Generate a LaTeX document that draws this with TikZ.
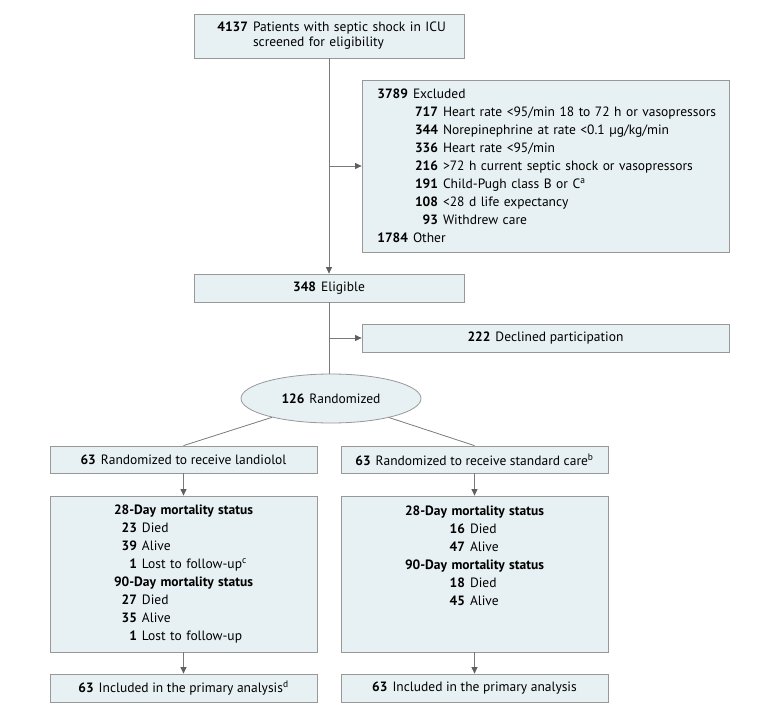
\documentclass[tikz,border=0pt]{standalone}
\usepackage{fontspec}
\setmainfont{PT Sans}
\usetikzlibrary{shapes.geometric,arrows.meta}
\definecolor{boxfill}{HTML}{E7F0F2}
\definecolor{boxdraw}{HTML}{989898}
\definecolor{linec}{HTML}{7A7A7A}
\definecolor{tipc}{HTML}{606060}
\newcommand\nb[2]{\textbf{#1}\hspace{5pt}#2}
\newcommand\rn[3]{\makebox[#1][r]{\textbf{#2}}\hspace{5pt}#3}
\begin{document}
\begin{tikzpicture}[x=1pt,y=-1pt,
  box/.style={draw=boxdraw, fill=boxfill, line width=0.8pt, inner sep=0pt,
    font=\fontsize{13.5}{18}\selectfont},
  conn/.style={draw=linec, line width=0.8pt},
  arr/.style={conn, -{Triangle[width=6pt,length=6.5pt,color=tipc]}}]
\useasboundingbox (0,0) rectangle (780,715);
\node[box, minimum width=270pt, minimum height=44pt, text width=262pt, align=left,
  font=\fontsize{13.5}{15}\selectfont] (top) at (329,36)
  {\noindent\hspace*{19pt}\rn{31pt}{4137}{Patients with septic shock in ICU}\\
   \hspace*{55pt}screened for eligibility};
\node[box, minimum width=367pt, minimum height=172pt, text width=359pt, align=left] (excl) at (545.5,166)
  {\noindent\hspace*{12pt}\rn{30pt}{3789}{Excluded}\\
   \hspace*{42pt}\rn{30pt}{717}{Heart rate <95/min 18 to 72 h or vasopressors}\\
   \hspace*{42pt}\rn{30pt}{344}{Norepinephrine at rate <0.1 µg/kg/min}\\
   \hspace*{42pt}\rn{30pt}{336}{Heart rate <95/min}\\
   \hspace*{42pt}\rn{30pt}{216}{>72 h current septic shock or vasopressors}\\
   \hspace*{42pt}\rn{30pt}{191}{Child-Pugh class B or C\textsuperscript{a}}\\
   \hspace*{42pt}\rn{30pt}{108}{<28 d life expectancy}\\
   \hspace*{42pt}\rn{30pt}{93}{Withdrew care}\\
   \hspace*{12pt}\rn{30pt}{1784}{Other}};
\node[box, minimum width=270pt, minimum height=28pt] (elig) at (329,288) {\nb{348}{Eligible}};
\node[box, minimum width=367pt, minimum height=28pt] (decl) at (545.5,338) {\nb{222}{Declined participation}};
\node[box, ellipse, minimum width=180pt, minimum height=49pt] (rand) at (331,398.5) {\nb{126}{Randomized}};
\node[box, minimum width=267pt, minimum height=27pt] (lrand) at (183.5,459.5) {\nb{63}{Randomized to receive landiolol}};
\node[box, minimum width=267pt, minimum height=27pt] (rrand) at (474.5,459.5) {\nb{63}{Randomized to receive standard care\textsuperscript{b}}};
\node[box, minimum width=267pt, minimum height=156pt, text width=259pt, align=left] (lmort) at (183.5,574)
  {\noindent\makebox[259pt]{\textbf{28-Day mortality status}}\\
   \rn{83pt}{23}{Died}\\
   \rn{83pt}{39}{Alive}\\
   \rn{83pt}{1}{Lost to follow-up\textsuperscript{c}}\\
   \makebox[259pt]{\textbf{90-Day mortality status}}\\
   \rn{83pt}{27}{Died}\\
   \rn{83pt}{35}{Alive}\\
   \rn{83pt}{1}{Lost to follow-up}};
\node[box, minimum width=267pt, minimum height=156pt, text width=259pt, align=left] (rmort) at (474.5,574)
  {\noindent\makebox[259pt]{\textbf{28-Day mortality status}}\\
   \rn{120pt}{16}{Died}\\
   \rn{120pt}{47}{Alive}\\
   \makebox[259pt]{\textbf{90-Day mortality status}}\\
   \rn{120pt}{18}{Died}\\
   \rn{120pt}{45}{Alive}\\
   \mbox{}\\
   \mbox{}};
\node[box, minimum width=267pt, minimum height=28pt] (lincl) at (183.5,688) {\nb{63}{Included in the primary analysis\textsuperscript{d}}};
\node[box, minimum width=267pt, minimum height=28pt] (rincl) at (474.5,688) {\nb{63}{Included in the primary analysis}};
\coordinate (b1) at (329,166);
\coordinate (b2) at (329,338);
\draw[arr] (top) -- (elig);
\draw[arr] (b1) -- (excl.west);
\draw[conn] (elig) -- (elig.south |- rand.north);
\draw[arr] (b2) -- (decl.west);
\draw[conn] (rand) -- (lrand.north);
\draw[conn] (rand) -- (rrand.north);
\draw[arr] (lrand) -- (lmort);
\draw[arr] (rrand) -- (rmort);
\draw[arr] (lmort) -- (lincl);
\draw[arr] (rmort) -- (rincl);
\end{tikzpicture}
\end{document}
